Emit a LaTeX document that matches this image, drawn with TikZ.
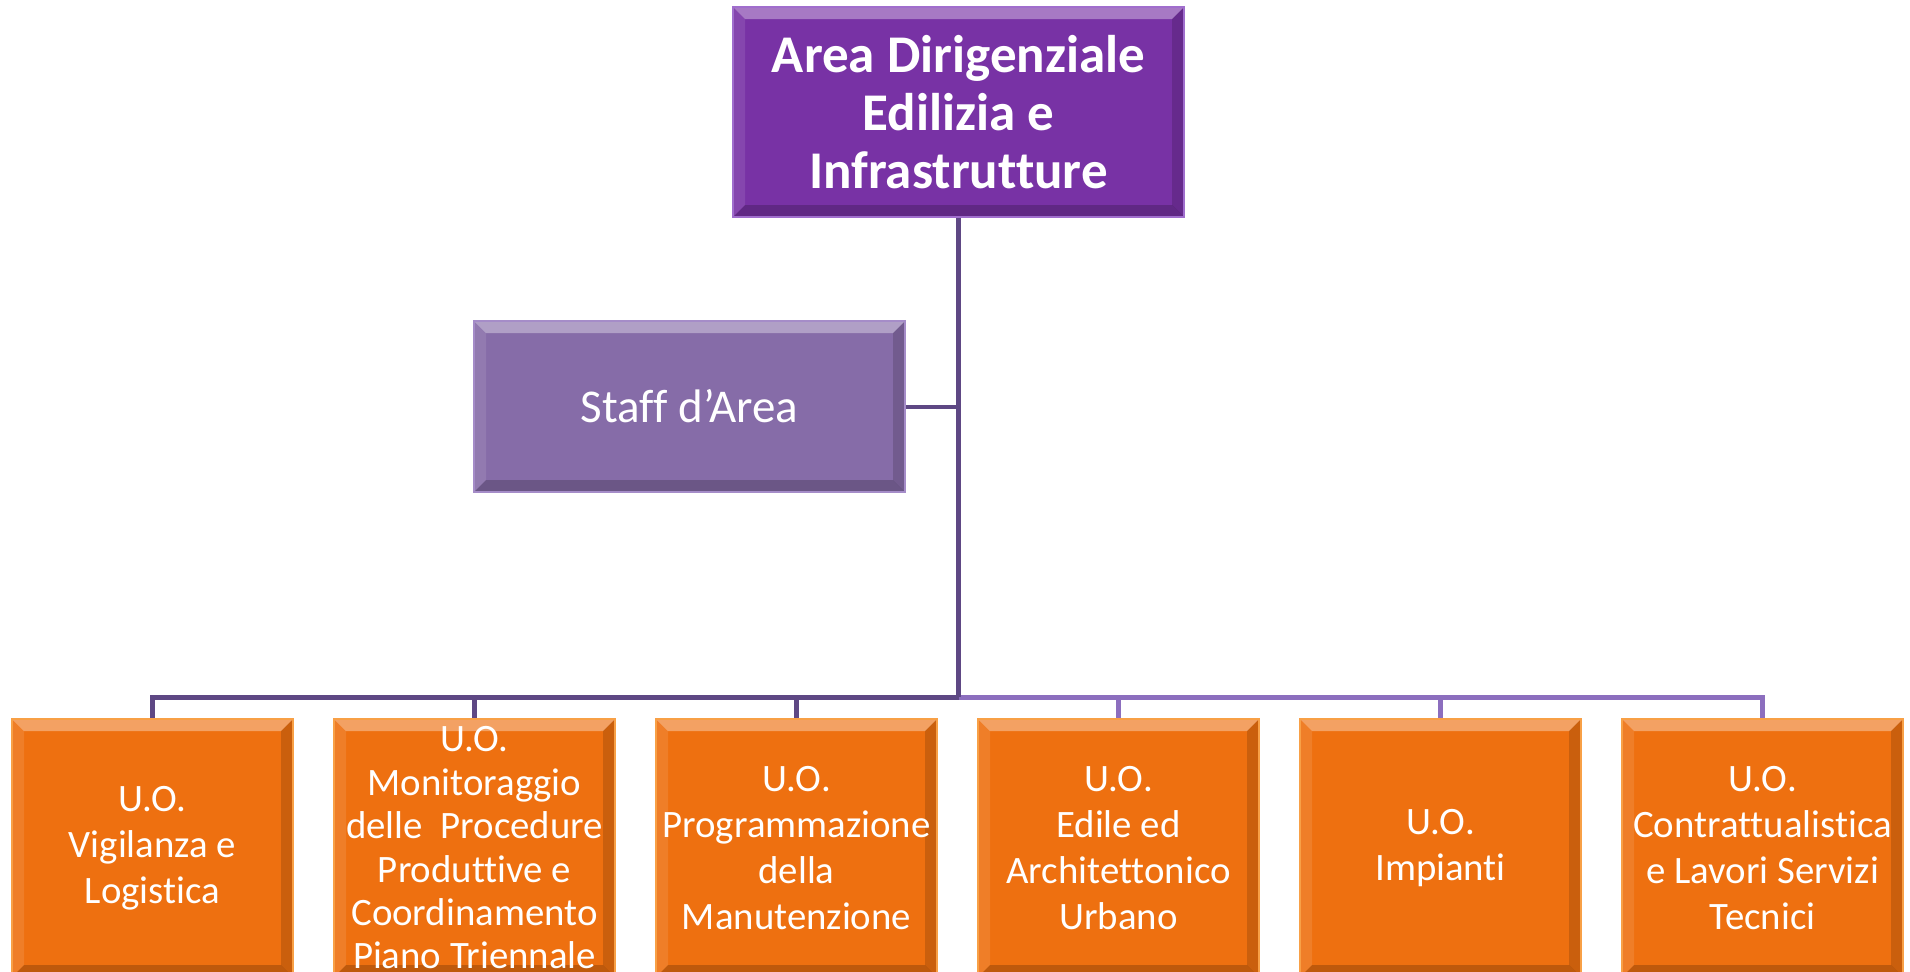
\documentclass[tikz,border=0pt]{standalone}
\usepackage{fontspec}
\setmainfont{Carlito}[Ligatures=NoCommon]
\usepackage{tikz}

\begin{document}
\begin{tikzpicture}[x=0.5pt,y=-0.5pt,
  bevel/.style={path picture={
    \path (path picture bounding box.south west) coordinate (bsw)
          (path picture bounding box.north east) coordinate (bne)
          (bsw |- bne) coordinate (bnw)
          (bne |- bsw) coordinate (bse);
    \fill [white,opacity=0.35] (bnw) -- (bne) -- ([shift={(-6pt,-6pt)}]bne) -- ([shift={(6pt,-6pt)}]bnw) -- cycle ;
    \fill [white,opacity=0.10] (bnw) -- ([shift={(6pt,-6pt)}]bnw) -- ([shift={(6pt,6pt)}]bsw) -- (bsw) -- cycle ;
    \fill [black,opacity=0.15] (bne) -- (bse) -- ([shift={(-6pt,6pt)}]bse) -- ([shift={(-6pt,-6pt)}]bne) -- cycle ;
    \fill [black,opacity=0.20] (bsw) -- ([shift={(6pt,6pt)}]bsw) -- ([shift={(-6pt,6pt)}]bse) -- (bse) -- cycle ;
  }},
  areabox/.style={bevel,rectangle,fill={rgb, 255:red, 120; green, 50; blue, 165 },draw={rgb, 255:red, 160; green, 110; blue, 205 },line width=1pt,
    minimum width=225.5pt,minimum height=105pt,inner sep=0pt,align=center,text=white,
    font=\bfseries\fontsize{26.5}{29.2}\selectfont},
  staffbox/.style={bevel,rectangle,fill={rgb, 255:red, 134; green, 108; blue, 168 },draw={rgb, 255:red, 165; green, 140; blue, 200 },line width=1pt,
    minimum width=215.5pt,minimum height=85.5pt,inner sep=0pt,align=center,text=white,
    font=\fontsize{23.5}{27}\selectfont},
  unitbox/.style={bevel,rectangle,fill={rgb, 255:red, 238; green, 112; blue, 16 },draw={rgb, 255:red, 248; green, 160; blue, 70 },line width=1pt,
    minimum width=140.5pt,minimum height=129pt,inner sep=0pt,align=center,text=white,
    font=\fontsize{19.4}{23.1}\selectfont},
  darkline/.style={draw={rgb, 255:red, 94; green, 72; blue, 132 },line width=2.5pt},
  lightline/.style={draw={rgb, 255:red, 140; green, 110; blue, 190 },line width=2.5pt}]
\useasboundingbox (0,0) rectangle (1910,971);
\clip (0,0) rectangle (1910,971);

%Shape: Rectangle [top]
\node [areabox] (area) at (958.5,112) {Area Dirigenziale\\Edilizia e\\Infrastrutture};
%Shape: Rectangle [staff]
\node [staffbox] (staff) at (689.5,406.5) {Staff d’Area};

%Shape: Rectangle [units]
\node [unitbox] (uo1) at (152.5,848) {U.O.\\Vigilanza e\\Logistica};
\node [unitbox,font=\fontsize{19.4}{21.7}\selectfont] (uo2) at (474.5,848) {U.O.\\Monitoraggio\\delle\ \ Procedure\\Produttive e\\Coordinamento\\Piano Triennale};
\node [unitbox] (uo3) at (796.5,848) {U.O.\\Programmazione\\della\\Manutenzione};
\node [unitbox] (uo4) at (1118.5,848) {U.O.\\Edile ed\\Architettonico\\Urbano};
\node [unitbox] (uo5) at (1440.5,848) {U.O.\\Impianti};
\node [unitbox] (uo6) at (1762.5,848) {U.O.\\Contrattualistica\\e Lavori Servizi\\Tecnici};

% Connection
\coordinate (bus) at (area.south |- 0,697);
\draw [lightline] (bus) -| (uo4.north);
\draw [lightline] (bus) -| (uo5.north);
\draw [lightline] (bus) -| (uo6.north);
\draw [darkline] (bus) -| (uo1.north);
\draw [darkline] (bus) -| (uo2.north);
\draw [darkline] (bus) -| (uo3.north);
\draw [darkline] (area.south) -- (bus);
% Connection
\draw [darkline,line width=2pt] (staff.east) -- (staff.east -| area.south);

\end{tikzpicture}
\end{document}
